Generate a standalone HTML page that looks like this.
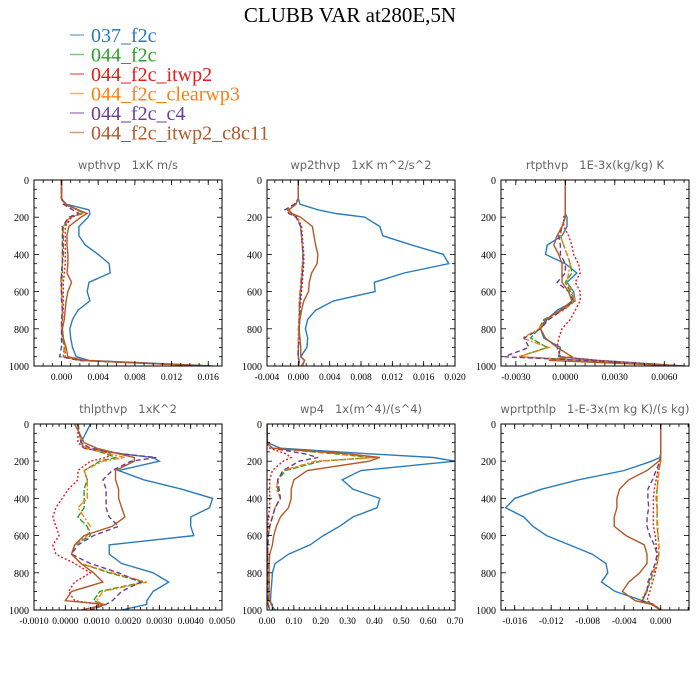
<!DOCTYPE html>
<html><head><meta charset="utf-8"><style>
body{margin:0;background:#fff;width:700px;height:700px;overflow:hidden}
svg{display:block}
.t{font-family:"Liberation Serif",serif}
.s{font-family:"DejaVu Sans","Liberation Sans",sans-serif;white-space:pre}
</style></head><body>
<svg id="fig" width="700" height="700" xmlns="http://www.w3.org/2000/svg">
<text class="t" x="350" y="22" font-size="21" text-anchor="middle">CLUBB VAR at280E,5N</text>
<g id="legend"></g>
<g id="panels"></g>
</svg>
<script>
const levels=[0,100,130,160,180,200,250,300,350,400,450,500,550,600,650,700,750,800,850,900,950,970,1000];
const seriesNames=["037_f2c","044_f2c","044_f2c_itwp2","044_f2c_clearwp3","044_f2c_c4","044_f2c_itwp2_c8c11"];
const panelTitles=["wpthvp   1xK m/s","wp2thvp   1xK m^2/s^2","rtpthvp   1E-3x(kg/kg) K","thlpthvp   1xK^2","wp4   1x(m^4)/(s^4)","wprtpthlp   1-E-3x(m kg K)/(s kg)"];
const yTicks=[0,200,400,600,800,1000];
const p1Ticks=["0.000","0.004","0.008","0.012","0.016"];
const p2Ticks=["-0.004","0.000","0.004","0.008","0.012","0.016","0.020"];
const p3Ticks=["-0.0030","0.0000","0.0030","0.0060"];
const p4Ticks=["-0.0010","0.0000","0.0010","0.0020","0.0030","0.0040","0.0050"];
const p5Ticks=["0.00","0.10","0.20","0.30","0.40","0.50","0.60","0.70"];
const p6Ticks=["-0.016","-0.012","-0.008","-0.004","0.000"];
// panel 1 wpthvp
const p1Blue=[0,0,0.0005,0.003,0.0031,0.0029,0.0019,0.0019,0.0026,0.004,0.0052,0.0053,0.003,0.0028,0.0031,0.0018,0.0012,0.0009,0.001,0.0012,0.0016,0.003,0.0165];
const p1Green=[0,0,0.0003,0.0018,0.0024,0.001,0.0002,0.0002,0.0002,0.0002,0.0001,0.0001,0,0,0.0001,0.0001,0.0001,0,0.0001,0.0003,0.0002,0.002,0.016];
const p1Red=[0,0,0.0003,0.0017,0.0022,0.0011,0.0004,0.0004,0.0004,0.0004,0.0004,0.0003,0.0002,0.0002,0.0002,0.0002,0.0001,0.0001,0.0002,0.0004,0.0004,0.002,0.016];
const p1Orange=[0,0,0.0003,0.0017,0.0023,0.0009,0.0002,0.0001,0.0001,0.0001,0.0001,0,-0.0001,0,0.0001,0.0001,0.0001,0,0.0002,0.0004,0.0003,0.002,0.016];
const p1Purple=[0,0,0.0002,0.0012,0.0019,0.0008,0.0001,0.0001,0.0001,0.0001,0.0001,0,0,0,0,0.0001,0,0,0,0,-0.0002,0.002,0.016];
const p1Brown=[0,0,0.0004,0.0018,0.0028,0.0021,0.0008,0.0006,0.0006,0.0007,0.0007,0.0006,0.0011,0.0007,0.0005,0.0004,0.0003,0.0001,0.0002,0.0005,0.0007,0.0025,0.016];
// panel 2 wp2thvp
const p2Blue=[0,0,0.0002,0.0025,0.0048,0.0085,0.0104,0.0108,0.0145,0.0185,0.0192,0.0135,0.0097,0.0098,0.0045,0.0022,0.0012,0.0009,0.0012,0.0011,0.0003,0.0008,0.0005];
const p2Green=[0,0,-0.0004,-0.0014,-0.001,-0.0002,0.0003,0.0004,0.0005,0.0006,0.0006,0.0005,0.0004,0.0003,0.0002,0.0001,0.0001,0.0001,0,0,0,0.0001,0.0001];
const p2Red=[0,0,-0.0004,-0.0013,-0.0009,-0.0001,0.0004,0.0005,0.0006,0.0007,0.0007,0.0006,0.0005,0.0004,0.0003,0.0002,0.0002,0.0001,0.0001,0,0,0.0001,0.0001];
const p2Orange=[0,0,-0.0004,-0.0014,-0.001,-0.0002,0.0003,0.0004,0.0005,0.0006,0.0005,0.0004,0.0003,0.0002,0.0001,0.0001,0.0001,0,0,0,-0.0001,0.0001,0.0001];
const p2Purple=[0,0,-0.0005,-0.0017,-0.0012,-0.0003,0.0003,0.0004,0.0005,0.0006,0.0006,0.0005,0.0004,0.0003,0.0002,0.0002,0.0001,0.0001,0.0001,0,0,0.0001,0.0001];
const p2Brown=[0,0,-0.0003,-0.0012,-0.0008,0.0003,0.0018,0.002,0.0022,0.0025,0.0024,0.0017,0.0014,0.0013,0.0007,0.0004,0.0002,0.0001,0.0002,0.0003,0.0003,0.0008,0.0004];
// panel 3 rtpthvp
const p3Blue=[0,0,0,0,0,0.0001,0.0001,-0.0002,-0.0011,-0.0012,0,0.0007,0.0001,0.0005,0.0006,-0.0005,-0.0011,-0.0015,-0.0013,-0.0003,-0.0004,0.002,0.0072];
const p3Green=[0,0,0,0,0,0,-0.0002,-0.0003,-0.0001,0.0001,0.0003,0.0004,0,0.0003,0.0006,-0.0002,-0.0013,-0.0016,-0.0021,-0.0011,-0.0028,0.001,0.007];
const p3Red=[0,0,0,0,0,-0.0001,-0.0001,0.0002,0.0004,0.0005,0.0008,0.0009,0.0006,0.0009,0.0009,0.0006,0.0003,-0.0002,-0.0004,-0.0005,-0.0003,0.002,0.007];
const p3Orange=[0,0,0,0,0,0,-0.0002,-0.0003,-0.0001,0.0001,0.0003,0.0002,0.0001,0.0004,0.0006,-0.0001,-0.0012,-0.0016,-0.0026,-0.001,-0.0028,0.001,0.007];
const p3Purple=[0,0,0,0,0,0,-0.0002,-0.0004,-0.0003,-0.0003,0,0,-0.0005,0.0002,0.0005,-0.0002,-0.001,-0.0015,-0.0025,-0.0022,-0.0037,0.001,0.007];
const p3Brown=[0,0,0,0,0,0,-0.0002,-0.0005,-0.0007,-0.0004,-0.0002,-0.0002,-0.0002,0.0002,0.0004,-0.0003,-0.0012,-0.0015,-0.0012,-0.0005,0.0004,-0.001,0.007];
// panel 4 thlpthvp
const p4Blue=[0.0008,0.0005,0.0006,0.0018,0.0028,0.003,0.0017,0.0025,0.0037,0.0047,0.0046,0.004,0.004,0.0041,0.0014,0.0014,0.0018,0.0028,0.0033,0.0028,0.0026,0.0026,0.0018];
const p4Green=[0.0004,0.0005,0.0007,0.0013,0.0016,0.0011,0.0006,0.0007,0.0006,0.0006,0.0006,0.0004,0.0007,0.0008,0.0003,0.0002,0.0005,0.0014,0.0025,0.0011,0.0009,0.0012,0.0008];
const p4Red=[0.0004,0.0004,0.0006,0.0015,0.0013,0.0008,0.0004,0.0004,0.0001,-0.0001,-0.0003,-0.0004,-0.0003,-0.0002,-0.0004,-0.0003,0.0003,0.0008,0.0003,0.0001,0.0003,0.0011,0.0008];
const p4Orange=[0.0004,0.0005,0.0007,0.0014,0.0019,0.0012,0.0006,0.0007,0.0007,0.0007,0.0004,0.0006,0.0008,0.0007,0.0003,0.0002,0.0005,0.0015,0.0026,0.0012,0.001,0.0012,0.0008];
const p4Purple=[0.0004,0.0005,0.0008,0.0018,0.0029,0.0021,0.0015,0.0012,0.0013,0.0013,0.0013,0.0014,0.0017,0.0009,0.0004,0.0002,0.0008,0.0017,0.0024,0.0018,0.0015,0.0013,0.0008];
const p4Brown=[0.0003,0.0006,0.001,0.0017,0.0022,0.0022,0.0016,0.0016,0.0017,0.0017,0.0018,0.0019,0.0015,0.0006,0.0003,0.0002,0.0005,0.0009,0.0012,0.0002,0.0,0.0013,0.0005];
// panel 5 wp4
const p5Blue=[0,0.002,0.05,0.38,0.62,0.70,0.35,0.28,0.32,0.42,0.41,0.32,0.27,0.21,0.16,0.08,0.03,0.02,0.018,0.015,0.013,0.015,0.03];
const p5Green=[0,0,0.02,0.25,0.39,0.2,0.07,0.04,0.04,0.05,0.03,0.02,0.01,0.005,0.003,0.002,0.002,0.002,0.002,0.002,0.003,0.005,0.01];
const p5Red=[0,0,0.01,0.07,0.09,0.06,0.02,0.01,0.01,0.01,0.01,0.005,0.004,0.003,0.002,0.002,0.002,0.002,0.002,0.002,0.003,0.005,0.01];
const p5Orange=[0,0,0.02,0.26,0.41,0.18,0.06,0.04,0.035,0.05,0.03,0.02,0.01,0.005,0.003,0.002,0.002,0.002,0.002,0.002,0.003,0.005,0.01];
const p5Purple=[0,0,0.02,0.14,0.19,0.12,0.06,0.04,0.045,0.05,0.03,0.02,0.01,0.005,0.003,0.002,0.002,0.002,0.002,0.002,0.003,0.005,0.01];
const p5Brown=[0,0,0.02,0.3,0.42,0.38,0.15,0.1,0.09,0.09,0.08,0.05,0.035,0.025,0.02,0.01,0.008,0.008,0.008,0.008,0.008,0.02,0.02];
// panel 6 wprtpthlp
const p6Blue=[0,0,0,0,-0.0001,-0.001,-0.004,-0.009,-0.013,-0.016,-0.017,-0.015,-0.014,-0.0125,-0.01,-0.0075,-0.006,-0.0058,-0.0065,-0.005,-0.002,-0.001,0];
const p6Green=[0,0,0,0,0,0,-0.0002,-0.0003,-0.0004,-0.0005,-0.0004,-0.0004,-0.0004,-0.0003,-0.0002,-0.0002,-0.0004,-0.0008,-0.0012,-0.0015,-0.002,-0.0008,0];
const p6Red=[0,0,0,0,0,-0.0001,-0.0003,-0.0005,-0.0007,-0.0008,-0.0008,-0.0008,-0.0008,-0.0006,-0.0005,-0.0004,-0.0004,-0.0006,-0.0009,-0.0012,-0.0015,-0.0008,0];
const p6Orange=[0,0,0,0,0,0,-0.0002,-0.0003,-0.0004,-0.0004,-0.0004,-0.0004,-0.0003,-0.0003,-0.0002,-0.0002,-0.0004,-0.0009,-0.0013,-0.0016,-0.0022,-0.0008,0];
const p6Purple=[0,0,0,0,0,-0.0001,-0.0005,-0.0009,-0.0014,-0.0014,-0.0013,-0.0015,-0.0015,-0.0012,-0.0007,-0.0004,-0.0006,-0.001,-0.0014,-0.0015,-0.0021,-0.0008,0];
const p6Brown=[0,0,0,0,0,-0.0002,-0.0015,-0.0035,-0.0045,-0.0048,-0.0048,-0.0051,-0.0051,-0.0038,-0.0018,-0.0015,-0.0015,-0.0023,-0.0035,-0.0042,-0.0028,-0.001,0];

const NS='http://www.w3.org/2000/svg';
const colors=["#2b7bba","#2ca02c","#e41a1c","#ff7f0e","#6a3d9a","#b15928"];
const dashes=["","6 2","2 2","6 2 2 2","5 3",""];
function el(tag,attrs,parent){const e=document.createElementNS(NS,tag);for(const k in attrs)e.setAttribute(k,attrs[k]);parent.appendChild(e);return e;}

const leg=document.getElementById('legend');
seriesNames.forEach((n,i)=>{
  const y=35+i*19.5;
  const ln=el('line',{x1:70,x2:84,y1:y,y2:y,stroke:colors[i],'stroke-width':1.5,opacity:0.6},leg);
  
  
  const t=el('text',{x:91,y:y+7,fill:colors[i],'font-size':20,class:'t'},leg);
  t.textContent=n;
  
  
});

const panels=[
 {x:34,y:180,xmin:-0.003,xmax:0.0175,ticks:p1Ticks,minor:0.001,data:[p1Blue,p1Green,p1Red,p1Orange,p1Purple,p1Brown]},
 {x:267,y:180,xmin:-0.004,xmax:0.020,ticks:p2Ticks,minor:0.001,data:[p2Blue,p2Green,p2Red,p2Orange,p2Purple,p2Brown]},
 {x:501,y:180,xmin:-0.0039,xmax:0.0075,ticks:p3Ticks,minor:0.0006,data:[p3Blue,p3Green,p3Red,p3Orange,p3Purple,p3Brown]},
 {x:34,y:424,xmin:-0.001,xmax:0.005,ticks:p4Ticks,minor:0.0002,data:[p4Blue,p4Green,p4Red,p4Orange,p4Purple,p4Brown]},
 {x:267,y:424,xmin:0,xmax:0.70,ticks:p5Ticks,minor:0.02,data:[p5Blue,p5Green,p5Red,p5Orange,p5Purple,p5Brown]},
 {x:501,y:424,xmin:-0.0175,xmax:0.0031,ticks:p6Ticks,minor:0.001,data:[p6Blue,p6Green,p6Red,p6Orange,p6Purple,p6Brown]}
];
const W=188,H=186;
const root=document.getElementById('panels');
panels.forEach((p,pi)=>{
  const g=el('g',{},root);
  
  
  const sx=v=>p.x+(v-p.xmin)/(p.xmax-p.xmin)*W;
  const sy=v=>p.y+v/1000*H;
  const tt=el('text',{x:p.x+W/2,y:p.y-11,'font-size':11.5,fill:'#666','text-anchor':'middle',class:'s'},g);
  tt.textContent=panelTitles[pi];
  
  
  const cp='clip'+pi;
  const cl=el('clipPath',{id:cp},g);el('rect',{x:p.x,y:p.y,width:W,height:H},cl);
  const lines=el('g',{'clip-path':'url(#'+cp+')'},g);
  p.data.forEach((arr,si)=>{
    const d=arr.map((v,k)=>(k?'L':'M')+sx(v).toFixed(1)+','+sy(levels[k]).toFixed(1)).join('');
    const path=el('path',{d:d,fill:'none',stroke:colors[si],'stroke-width':1.4},lines);
    if(dashes[si])path.setAttribute('stroke-dasharray',dashes[si]);
    
    
  });
  const fr=el('rect',{x:p.x,y:p.y,width:W,height:H,fill:'none',stroke:'#000','stroke-width':1},g);
  
  
  const tk=el('g',{stroke:'#000','stroke-width':0.8},g);
  for(let v=0;v<=1000;v+=50){const y=sy(v);const L=(v%200===0)?5:3;
    el('line',{x1:p.x,x2:p.x+L,y1:y,y2:y},tk);el('line',{x1:p.x+W,x2:p.x+W-L,y1:y,y2:y},tk);}
  yTicks.forEach(v=>{const t=el('text',{x:p.x-5,y:sy(v)+4,'font-size':10,'text-anchor':'end',class:'t'},g);t.textContent=v;
    });
  const nm=Math.ceil(p.xmin/p.minor-1e-6), nx=Math.floor(p.xmax/p.minor+1e-6);
  for(let k=nm;k<=nx;k++){const x=sx(k*p.minor);el('line',{x1:x,x2:x,y1:p.y,y2:p.y+3},tk);el('line',{x1:x,x2:x,y1:p.y+H,y2:p.y+H-3},tk);}
  p.ticks.forEach(s=>{const v=parseFloat(s);const x=sx(v);
    el('line',{x1:x,x2:x,y1:p.y,y2:p.y+5},tk);el('line',{x1:x,x2:x,y1:p.y+H,y2:p.y+H-5},tk);
    const t=el('text',{x:x,y:p.y+H+14,'font-size':9.5,'text-anchor':'middle',class:'t'},g);t.textContent=s;
    });
});
</script>
</body></html>
